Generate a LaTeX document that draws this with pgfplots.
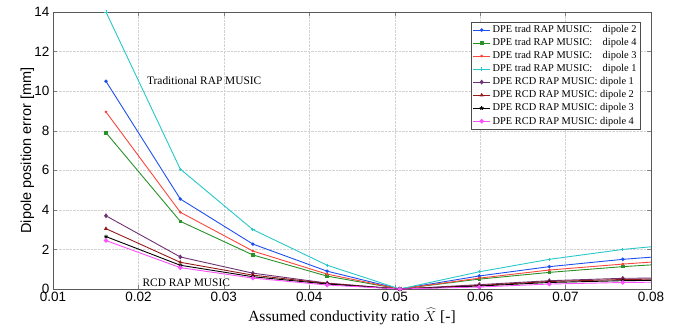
\documentclass[border=0pt]{standalone}
\usepackage{fontspec}
\setmainfont{Liberation Serif}
\setsansfont{Liberation Sans}
\usepackage{pgfplots}
\pgfplotsset{compat=1.18}
\definecolor{cblue}{RGB}{30,80,240}
\definecolor{cgreen}{RGB}{40,145,40}
\definecolor{cred}{RGB}{250,70,60}
\definecolor{ccyan}{RGB}{40,200,200}
\definecolor{cpurple}{RGB}{110,50,115}
\definecolor{cdred}{RGB}{150,25,25}
\definecolor{cmag}{RGB}{250,80,250}
\begin{document}
\begin{tikzpicture}
\useasboundingbox (-53pt,-44pt) rectangle (641pt,289pt);
\begin{axis}[
  scale only axis, width=598pt, height=277pt,
  xmin=0.01, xmax=0.08, ymin=0, ymax=14,
  xtick={0.01,0.02,...,0.08}, ytick={0,2,...,14},
  scaled x ticks=false,
  xticklabel style={yshift=-1pt, inner ysep=1.5pt, /pgf/number format/.cd, fixed, precision=2, fixed zerofill},
  tick label style={font=\sffamily\fontsize{13.5}{13.5}\selectfont},
  yticklabel style={xshift=-2pt, inner xsep=1.5pt},
  /pgf/number format/assume math mode=true,
  xlabel={Assumed conductivity ratio $\widehat{X}$ [-]},
  xlabel style={font=\fontsize{15.5}{15.5}\selectfont, yshift=-4.5pt, inner sep=1pt},
  ylabel={Dipole position error [mm]},
  ylabel style={font=\sffamily\fontsize{14.5}{14.5}\selectfont, yshift=-5pt},
  grid=major, major grid style={gray!35, densely dotted},
  tick align=inside, tick pos=both, major tick length=4pt,
  axis line style={gray!70!black},
  every axis plot/.append style={line width=0.9pt},
  clip=true,
  legend style={at={(0.982,0.964)}, anchor=north east, font=\fontsize{10.4}{11}\selectfont,
    draw=gray!60!black, inner sep=1.5pt, row sep=0.3pt, cells={anchor=west}},
  legend cell align=left,
]
\addplot[cblue, mark=*, mark size=1.3pt] coordinates {(0.0162,10.5)(0.0249,4.55)(0.0334,2.27)(0.0421,0.9)(0.0506,0)(0.0599,0.66)(0.0681,1.13)(0.0767,1.5)(0.0853,1.78)};
\addlegendentry{DPE trad RAP MUSIC:\quad dipole 2}
\addplot[cgreen, mark=square*, mark size=1.3pt] coordinates {(0.0162,7.9)(0.0249,3.42)(0.0334,1.72)(0.0421,0.65)(0.0506,0)(0.0599,0.5)(0.0681,0.84)(0.0767,1.13)(0.0853,1.36)};
\addlegendentry{DPE trad RAP MUSIC:\quad dipole 4}
\addplot[cred, mark=*, mark size=0.9pt] coordinates {(0.0162,8.95)(0.0249,3.88)(0.0334,1.92)(0.0421,0.75)(0.0506,0)(0.0599,0.55)(0.0681,0.96)(0.0767,1.26)(0.0853,1.52)};
\addlegendentry{DPE trad RAP MUSIC:\quad dipole 3}
\addplot[ccyan, mark=+, mark size=1.6pt] coordinates {(0.0162,14.0)(0.0249,6.06)(0.0334,3.0)(0.0421,1.2)(0.0506,0)(0.0599,0.87)(0.0681,1.5)(0.0767,2.0)(0.0853,2.35)};
\addlegendentry{DPE trad RAP MUSIC:\quad dipole 1}
\addplot[cpurple, mark=diamond*, mark size=1.8pt] coordinates {(0.0162,3.7)(0.0249,1.62)(0.0334,0.8)(0.0421,0.3)(0.0506,0)(0.0599,0.22)(0.0681,0.42)(0.0767,0.54)(0.0853,0.57)};
\addlegendentry{DPE RCD RAP MUSIC: dipole 1}
\addplot[cdred, mark=triangle*, mark size=1.4pt] coordinates {(0.0162,3.05)(0.0249,1.35)(0.0334,0.7)(0.0421,0.28)(0.0506,0)(0.0599,0.18)(0.0681,0.38)(0.0767,0.48)(0.0853,0.52)};
\addlegendentry{DPE RCD RAP MUSIC: dipole 2}
\addplot[black, mark=star, mark size=2pt] coordinates {(0.0162,2.65)(0.0249,1.2)(0.0334,0.62)(0.0421,0.25)(0.0506,0)(0.0599,0.15)(0.0681,0.33)(0.0767,0.42)(0.0853,0.46)};
\addlegendentry{DPE RCD RAP MUSIC: dipole 3}
\addplot[cmag, mark=*, mark size=1.8pt] coordinates {(0.0162,2.45)(0.0249,1.08)(0.0334,0.55)(0.0421,0.2)(0.0506,0)(0.0599,0.1)(0.0681,0.25)(0.0767,0.33)(0.0853,0.36)};
\addlegendentry{DPE RCD RAP MUSIC: dipole 4}
\node[font=\fontsize{11.4}{11.4}\selectfont] at (axis cs:0.0277,10.55) {Traditional RAP MUSIC};
\node[font=\fontsize{11.4}{11.4}\selectfont] at (axis cs:0.0256,0.3) {RCD RAP MUSIC};
\end{axis}
\end{tikzpicture}
\end{document}
